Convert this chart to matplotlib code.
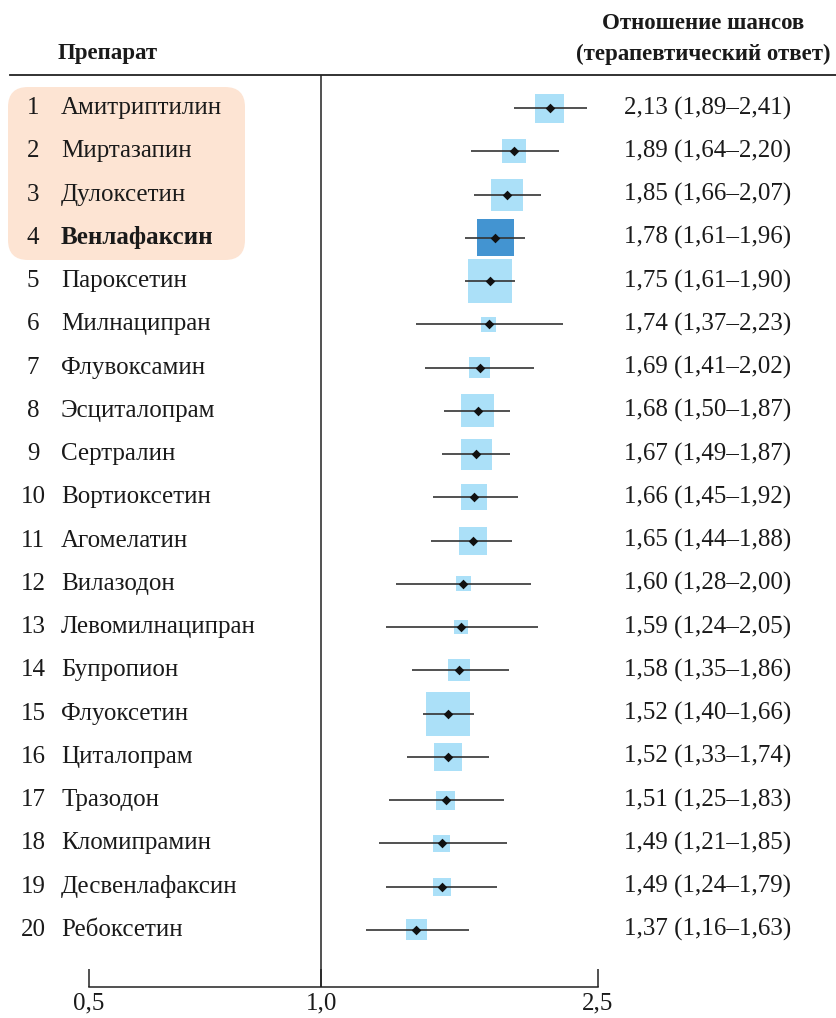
import matplotlib

matplotlib.use('Agg')
import matplotlib.pyplot as plt
import matplotlib.transforms as mtransforms
from matplotlib.patches import FancyBboxPatch

plt.rcParams['font.family'] = ['Liberation Serif', 'DejaVu Serif']

# Препараты, отношение шансов и 95% ДИ
drugs = ['Амитриптилин', 'Миртазапин', 'Дулоксетин', 'Венлафаксин', 'Пароксетин',
         'Милнаципран', 'Флувоксамин', 'Эсциталопрам', 'Сертралин', 'Вортиоксетин',
         'Агомелатин', 'Вилазодон', 'Левомилнаципран', 'Бупропион', 'Флуоксетин',
         'Циталопрам', 'Тразодон', 'Кломипрамин', 'Десвенлафаксин', 'Ребоксетин']
odds = [2.13, 1.89, 1.85, 1.78, 1.75, 1.74, 1.69, 1.68, 1.67, 1.66,
        1.65, 1.60, 1.59, 1.58, 1.52, 1.52, 1.51, 1.49, 1.49, 1.37]
ci_low = [1.89, 1.64, 1.66, 1.61, 1.61, 1.37, 1.41, 1.50, 1.49, 1.45,
          1.44, 1.28, 1.24, 1.35, 1.40, 1.33, 1.25, 1.21, 1.24, 1.16]
ci_high = [2.41, 2.20, 2.07, 1.96, 1.90, 2.23, 2.02, 1.87, 1.87, 1.92,
           1.88, 2.00, 2.05, 1.86, 1.66, 1.74, 1.83, 1.85, 1.79, 1.63]
# относительный вес (сторона квадрата)
weights = [29, 24, 32, 37, 44, 15, 21, 33, 31, 26,
           28, 15, 14, 22, 44, 28, 19, 17, 18, 21]
highlight = 3  # Венлафаксин

rows = list(range(1, len(drugs) + 1))

W, H = 836, 1018
fig = plt.figure(figsize=(W / 100, H / 100), dpi=100)

# фоновая ось в пикселях для подложки и заголовков
bg = fig.add_axes([0, 0, 1, 1], zorder=0)
bg.set_xlim(0, W)
bg.set_ylim(H, 0)
bg.axis('off')

ax = fig.add_axes([89 / W, 1 - 987 / H, (598 - 89) / W, (987 - 75) / H], zorder=1)
ax.patch.set_alpha(0)
ax.set_xscale('log')
ax.set_xlim(0.4635, 2.5)
ax.set_ylim(21.32, 0.237)

# подложка для первых четырёх строк
bg.add_patch(FancyBboxPatch((8, 87), 237, 173, boxstyle='round,pad=0,rounding_size=20',
                            facecolor='#fde4d3', edgecolor='none'))

# линия заголовка
bg.plot([10, W], [75, 75], color='#222222', lw=1.3)

ax.axvline(1.0, color='#222222', lw=1.1, zorder=1)

sizes = [(w * 0.72) ** 2 for w in weights]
colors = ['#4394d1' if i == highlight else '#abe0f8' for i in range(len(drugs))]
ax.scatter(odds, rows, s=sizes, marker='s', c=colors, linewidths=0, zorder=2)
ax.hlines(rows, ci_low, ci_high, color='#333333', lw=1.2, zorder=3)
ax.scatter(odds, rows, s=24, marker='D', color='#111111', linewidths=0, zorder=4)

for side in ['top', 'right', 'left']:
    ax.spines[side].set_visible(False)
ax.spines['bottom'].set_color('#222222')
ax.spines['bottom'].set_linewidth(1.1)
ax.set_yticks([])
ax.minorticks_off()
ax.set_xticks([0.4635, 1.0, 2.5])
ax.set_xticklabels(['0,5', '1,0', '2,5'])
ax.tick_params(axis='x', direction='in', length=13, width=1.1, color='#222222',
               labelsize=18, pad=4, labelcolor='#1a1a1a')

tr = mtransforms.blended_transform_factory(bg.transData, ax.transData)


def fmt(v):
    return f'{v:.2f}'.replace('.', ',')


for i, name in enumerate(drugs):
    y = rows[i]
    weight = 'bold' if i == highlight else 'normal'
    fig.text(33, y, str(y), transform=tr, ha='center', va='center', fontsize=18, color='#1a1a1a')
    fig.text(61, y, name, transform=tr, ha='left', va='center', fontsize=18,
             fontweight=weight, color='#1a1a1a')
    fig.text(624, y, f'{fmt(odds[i])} ({fmt(ci_low[i])}\u2013{fmt(ci_high[i])})', transform=tr,
             ha='left', va='center', fontsize=18, color='#1a1a1a')

bg.text(58, 53, 'Препарат', ha='left', va='center', fontsize=16.5, fontweight='bold', color='#1a1a1a')
bg.text(703, 23, 'Отношение шансов', ha='center', va='center', fontsize=16.5,
        fontweight='bold', color='#1a1a1a')
bg.text(703, 54, '(терапевтический ответ)', ha='center', va='center', fontsize=16.5,
        fontweight='bold', color='#1a1a1a')

fig.savefig('out.png', dpi=100)
